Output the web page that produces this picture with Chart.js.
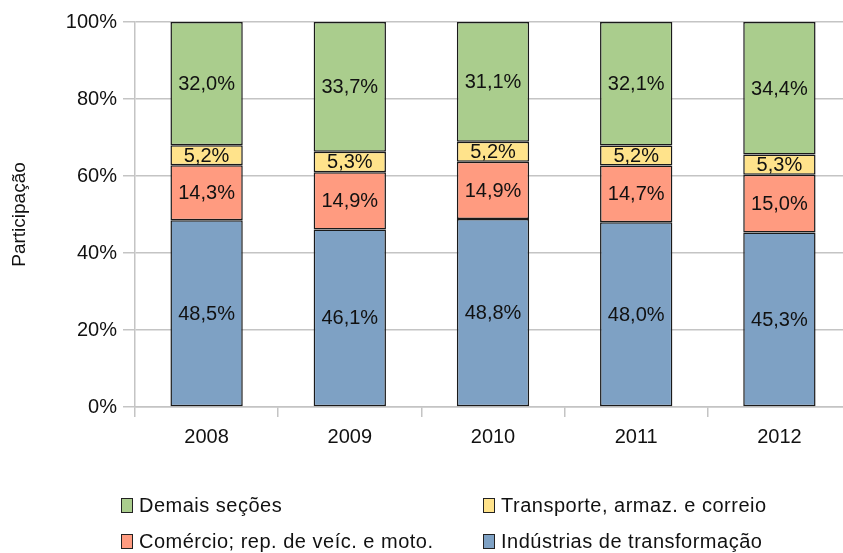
<!DOCTYPE html>
<html>
<head>
<meta charset="utf-8">
<script src="https://cdn.jsdelivr.net/npm/chart.js@4/dist/chart.umd.min.js"></script>
<style>
  body { margin: 0; background: #fff; font-family: "Liberation Sans", Arial, sans-serif; }
  #wrap { position: relative; width: 843px; height: 553px; overflow: hidden; }
  #chart { position: absolute; left: 0; top: 0; }
  .leg { position: absolute; font-size: 20px; letter-spacing: 0.5px; color: #111; white-space: nowrap; line-height: 22px; }
  .leg span.box { display: inline-block; width: 10px; height: 13px; border: 1px solid #222; margin-right: 6px; vertical-align: -1px; }
</style>
</head>
<body>
<div id="wrap">
  <canvas id="chart" width="851" height="553"></canvas>
  <div id="legend"></div>
</div>
<script>
// Data
const years = ['2008', '2009', '2010', '2011', '2012'];
const industria = [48.5, 46.1, 48.8, 48.0, 45.3];
const comercio = [14.3, 14.9, 14.9, 14.7, 15.0];
const transporte = [5.2, 5.3, 5.2, 5.2, 5.3];
const demais = [32.0, 33.7, 31.1, 32.1, 34.4];
const yTicks = [0, 20, 40, 60, 80, 100];

const seriesNames = ['Indústrias de transformação', 'Comércio; rep. de veíc. e moto.', 'Transporte, armaz. e correio', 'Demais seções'];
const seriesColors = ['#7ea1c4', '#ff9b80', '#ffe38b', '#aacd8d'];
const seriesData = [industria, comercio, transporte, demais];

const FONT = '"Liberation Sans", Arial, sans-serif';
const fmt = v => v.toFixed(1).replace('.', ',') + '%';

// draws the value in the middle of each segment
const segmentLabels = {
  id: 'segmentLabels',
  afterDatasetsDraw(chart) {
    const c = chart.ctx;
    c.save();
    c.font = '20px ' + FONT;
    c.fillStyle = '#111';
    c.textAlign = 'center';
    c.textBaseline = 'middle';
    chart.data.datasets.forEach((ds, i) => {
      chart.getDatasetMeta(i).data.forEach((bar, j) => {
        c.fillText(fmt(ds.data[j]), bar.x, (bar.y + bar.base) / 2 + 1);
      });
    });
    c.restore();
  }
};

new Chart(document.getElementById('chart'), {
  type: 'bar',
  data: {
    labels: years,
    datasets: seriesData.map((d, i) => ({
      label: seriesNames[i],
      data: d,
      backgroundColor: seriesColors[i],
      borderColor: '#1a1a1a',
      borderWidth: 1.5,
      borderSkipped: false,
      barPercentage: 1,
      categoryPercentage: 0.505
    }))
  },
  options: {
    responsive: false,
    animation: false,
    layout: { padding: { top: 22, bottom: 106, left: 0, right: 0 } },
    plugins: { legend: { display: false }, tooltip: { enabled: false } },
    scales: {
      x: {
        stacked: true,
        afterFit: s => { s.height = 40; },
        grid: { offset: true, drawOnChartArea: false, tickLength: 10, color: '#c4c4c4', lineWidth: 1.5 },
        border: { color: '#c4c4c4', width: 1.5 },
        ticks: { color: '#111', font: { size: 20, family: FONT }, padding: 8 }
      },
      y: {
        stacked: true,
        min: 0, max: 100,
        afterFit: s => { s.width = 135; },
        afterBuildTicks: s => { s.ticks = yTicks.map(v => ({ value: v })); },
        grid: { tickLength: 12, color: '#c4c4c4', lineWidth: 1.5 },
        border: { color: '#c4c4c4', width: 1.5 },
        ticks: { color: '#111', callback: v => v + '%', font: { size: 20, family: FONT }, padding: 6 },
        title: { display: true, text: 'Participação', color: '#111', font: { size: 19, family: FONT }, padding: { top: 8, bottom: 0 } }
      }
    }
  },
  plugins: [segmentLabels]
});

// legend in two columns, top row: Demais / Transporte, bottom row: Comércio / Indústrias
const legendPos = [[483, 530], [121, 530], [483, 494], [121, 494]];
const legend = document.getElementById('legend');
seriesNames.forEach((name, i) => {
  const el = document.createElement('div');
  el.className = 'leg';
  el.style.left = legendPos[i][0] + 'px';
  el.style.top = legendPos[i][1] + 'px';
  el.innerHTML = '<span class="box" style="background:' + seriesColors[i] + '"></span>' + name;
  legend.appendChild(el);
});
</script>
</body>
</html>
